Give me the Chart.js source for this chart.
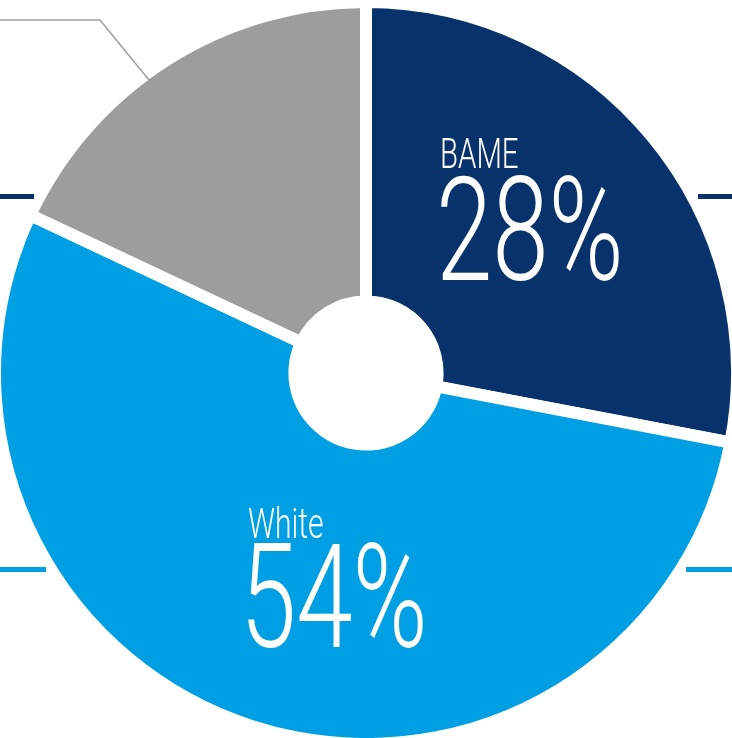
<!DOCTYPE html>
<html>
<head>
<meta charset="utf-8">
<script src="https://cdn.jsdelivr.net/npm/chart.js@4.4.0/dist/chart.umd.min.js"></script>
<style>
  html, body { margin: 0; padding: 0; background: #fff; }
  canvas { display: block; }
</style>
</head>
<body>
<canvas id="chart" width="732" height="738"></canvas>
<script>
const categories = ["BAME", "White", "Other"];
const shares = [28, 54, 18];
const colours = ["#07326b", "#009fe3", "#9d9d9c"];

const NAVY = colours[0], BLUE = colours[1], GREY = colours[2];

// condensed light lettering like the original infographic
const drawCondensed = (ctx, text, x, y, size) => {
    ctx.save();
    ctx.translate(x, y);
    ctx.scale(0.7, 1);
    ctx.font = "300 " + size + "px Roboto";
    ctx.fillStyle = "#fff";
    ctx.textAlign = "left";
    ctx.textBaseline = "alphabetic";
    ctx.fillText(text, 0, 0);
    ctx.restore();
};

// leftover leader lines from the page layout
const decorations = {
    id: "decorations",
    afterDatasetsDraw(chart) {
        const { ctx } = chart;
        const arc = chart.getDatasetMeta(0).data[0];
        const cx = arc.x, cy = arc.y;
        ctx.save();
        ctx.strokeStyle = GREY;
        ctx.lineWidth = 1.5;
        ctx.beginPath();
        ctx.moveTo(0, cy - 353);
        ctx.lineTo(cx - 266, cy - 353);
        ctx.lineTo(cx - 217, cy - 293);
        ctx.stroke();
        ctx.fillStyle = NAVY;
        ctx.fillRect(0, cy - 179, 34, 5);
        ctx.fillRect(cx + 332, cy - 179, 40, 5);
        ctx.fillStyle = BLUE;
        ctx.fillRect(0, cy + 194, 46, 5);
        ctx.fillRect(cx + 320, cy + 194, 50, 5);
        ctx.restore();
    },
};

const sliceLabels = {
    id: "sliceLabels",
    afterDatasetsDraw(chart) {
        const { ctx } = chart;
        const arc = chart.getDatasetMeta(0).data[0];
        const cx = arc.x, cy = arc.y;
        // BAME
        drawCondensed(ctx, categories[0], cx + 74, cy - 205, 42);
        drawCondensed(ctx, shares[0] + "%", cx + 70, cy - 93, 145);
        // White
        drawCondensed(ctx, categories[1], cx - 118, cy + 165, 43);
        drawCondensed(ctx, shares[1] + "%", cx - 126, cy + 274, 145);
    },
};

const ctx = document.getElementById("chart").getContext("2d");
const myChart = new Chart(ctx, {
    type: "doughnut",
    data: {
        labels: categories,
        datasets: [
            {
                data: shares,
                backgroundColor: colours,
                borderColor: "#fff",
                borderWidth: 12,
                borderAlign: "center",
                borderJoinStyle: "miter",
            },
        ],
    },
    options: {
        responsive: false,
        animation: false,
        radius: 371,
        cutout: "19.3%",
        layout: { padding: { top: 8, bottom: 0, left: 0, right: 0 } },
        plugins: {
            legend: { display: false },
            tooltip: { enabled: false },
        },
    },
    plugins: [decorations, sliceLabels],
});
</script>
</body>
</html>
